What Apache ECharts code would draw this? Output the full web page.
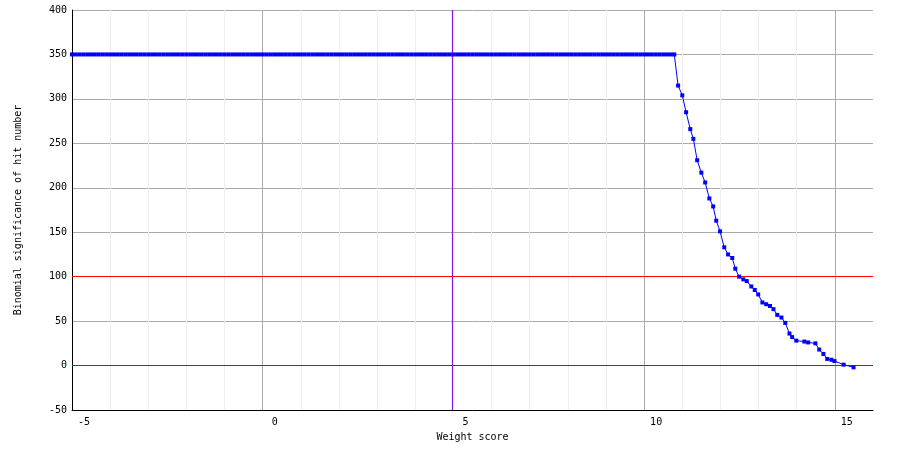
<!DOCTYPE html>
<html><head><meta charset="utf-8">
<script src="https://cdn.jsdelivr.net/npm/echarts@6/dist/echarts.min.js"></script>
<style>html,body{margin:0;padding:0;background:#fff}#c{width:904px;height:462px}</style>
</head><body><div id="c"></div>
<script>
// Flat plateau (value 350) sample positions
const flatX = [
-5,-4.9,-4.8,-4.7,-4.6,-4.5,-4.4,-4.3,-4.2,-4.1,
-4,-3.9,-3.8,-3.7,-3.6,-3.5,-3.4,-3.3,-3.2,-3.1,
-3,-2.9,-2.8,-2.7,-2.6,-2.5,-2.4,-2.3,-2.2,-2.1,
-2,-1.9,-1.8,-1.7,-1.6,-1.5,-1.4,-1.3,-1.2,-1.1,
-1,-0.9,-0.8,-0.7,-0.6,-0.5,-0.4,-0.3,-0.2,-0.1,
0,0.1,0.2,0.3,0.4,0.5,0.6,0.7,0.8,0.9,
1,1.1,1.2,1.3,1.4,1.5,1.6,1.7,1.8,1.9,
2,2.1,2.2,2.3,2.4,2.5,2.6,2.7,2.8,2.9,
3,3.1,3.2,3.3,3.4,3.5,3.6,3.7,3.8,3.9,
4,4.1,4.2,4.3,4.4,4.5,4.6,4.7,4.8,4.9,
5,5.1,5.2,5.3,5.4,5.5,5.6,5.7,5.8,5.9,
6,6.1,6.2,6.3,6.4,6.5,6.6,6.7,6.8,6.9,
7,7.1,7.2,7.3,7.4,7.5,7.6,7.7,7.8,7.9,
8,8.1,8.2,8.3,8.4,8.5,8.6,8.7,8.8,8.9,
9,9.1,9.2,9.3,9.4,9.5,9.6,9.7,9.8,9.9,
10,10.1,10.2,10.3,10.4,10.5,10.6,10.7,10.79
];
const flatValue = 350;
const curveX = [10.89,11.00,11.10,11.21,11.29,11.39,11.50,11.60,11.71,11.81,11.89,11.99,12.10,12.20,12.31,12.39,12.49,12.60,12.69,12.81,12.90,12.99,13.10,13.20,13.30,13.39,13.49,13.60,13.70,13.81,13.88,13.99,14.20,14.30,14.49,14.59,14.70,14.80,14.91,14.99,15.23,15.49];
const curveY = [315,304,285,266,255,231,217,206,188,179,163,151,133,125,121,109,100,97,95,89,85,80,71,69,67,63.5,57,54,48,36,32,28,27,26,25,18,13,7.5,6.5,5,1,-2];
const xTickLabels = [-5,0,5,10,15];
const yTickLabels = [-50,0,50,100,150,200,250,300,350,400];
const majorXGrid = [0,10,15];
const thresholdX = 4.98;
const thresholdY = 100;
const zeroY = 0;

const data = flatX.map(x => [x, flatValue]).concat(curveX.map((x, i) => [x, curveY[i]]));
const FONT = 'DejaVu Sans Mono';
const chart = echarts.init(document.getElementById('c'), null, {renderer: 'canvas'});
chart.setOption({
  animation: false,
  backgroundColor: '#ffffff',
  grid: {left: 72, right: 31, top: 10, bottom: 52, containLabel: false},
  xAxis: [{
    type: 'value', min: -5, max: 16, interval: 5,
    name: 'Weight score', nameLocation: 'middle', nameGap: 22,
    nameTextStyle: {fontFamily: FONT, fontSize: 10, color: '#000'},
    axisLine: {show: true, onZero: false, lineStyle: {color: '#000', width: 1}},
    axisTick: {show: false},
    axisLabel: {fontFamily: FONT, fontSize: 10, color: '#000', margin: 7, padding: [0,0,0,24], showMaxLabel: false,
      formatter: v => xTickLabels.includes(v) ? String(v) : ''},
    splitLine: {show: false},
    minorTick: {show: false, splitNumber: 5},
    minorSplitLine: {show: true, lineStyle: {color: '#eeeeee', width: 1}}
  }],
  yAxis: [{
    type: 'value', min: -50, max: 400, interval: 50,
    name: 'Binomial significance of hit number', nameLocation: 'middle', nameGap: 49, nameRotate: 90,
    nameTextStyle: {fontFamily: FONT, fontSize: 10, color: '#000'},
    axisLine: {show: true, onZero: false, lineStyle: {color: '#000', width: 1}},
    axisTick: {show: false},
    axisLabel: {fontFamily: FONT, fontSize: 10, color: '#000', margin: 5, padding: [6,0,0,0],
      formatter: v => yTickLabels.includes(v) ? String(v) : ''},
    splitLine: {show: true, lineStyle: {color: '#aaaaaa', width: 1}}
  }],
  series: [{
    type: 'line', data: [], z: 1, silent: true,
    markLine: {
      silent: true, symbol: 'none', animation: false,
      label: {show: false},
      lineStyle: {color: '#aaaaaa', width: 1, type: 'solid'},
      data: majorXGrid.map(v => ({xAxis: v}))
    }
  }, {
    type: 'line', data: [], z: 3, silent: true,
    markLine: {
      silent: true, symbol: 'none', animation: false,
      label: {show: false},
      data: [
        {yAxis: zeroY, lineStyle: {color: '#7a10c0', width: 1.2, type: 'solid'}},
        {xAxis: thresholdX, lineStyle: {color: '#8a10e0', width: 1.2, type: 'solid'}},
        {yAxis: thresholdY, lineStyle: {color: '#ff0000', width: 1.2, type: 'solid'}}
      ]
    }
  }, {
    type: 'line', data: data, z: 5,
    symbol: 'rect', symbolSize: 4, showAllSymbol: true,
    itemStyle: {color: '#0000ff'},
    lineStyle: {color: '#0000ff', width: 1}
  }]
});
</script></body></html>
